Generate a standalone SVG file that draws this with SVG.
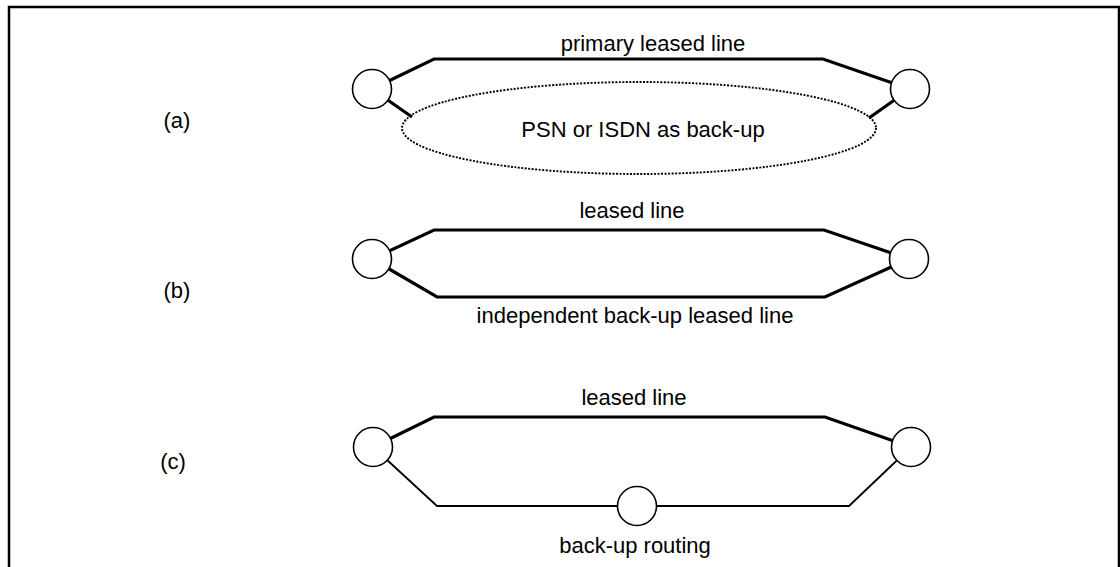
<svg xmlns="http://www.w3.org/2000/svg" width="1120" height="567" viewBox="0 0 1120 567">
  <style>
    .frame { fill: none; stroke: #000; stroke-width: 2.5; }
    .node { fill: #fff; stroke: #000; stroke-width: 1.6; }
    .thick { fill: none; stroke: #000; stroke-width: 3.2; stroke-linejoin: miter; }
    .thin { fill: none; stroke: #000; stroke-width: 1.8; stroke-linejoin: miter; }
    .cloud { fill: none; stroke: #000; stroke-width: 1.9; stroke-dasharray: 2 1.5; }
    text { font-family: "Liberation Sans", Arial, sans-serif; font-size: 22px; fill: #000; text-anchor: middle; }
  </style>

  <!-- outer frame (open at the bottom) -->
  <path class="frame" d="M9,568 V7 H1119 V568"/>

  <!-- case labels -->
  <text x="177" y="128">(a)</text>
  <text x="177" y="298">(b)</text>
  <text x="173" y="469">(c)</text>

  <!-- connectors -->
  <g id="connectors">
    <!-- (a) primary leased line and stubs into the switched network -->
    <polyline class="thick" points="372,89 434,59 823,59 910,89"/>
    <line class="thick" x1="372" y1="89" x2="412" y2="117"/>
    <line class="thick" x1="910" y1="89" x2="869" y2="118"/>
    <ellipse id="psn-cloud" class="cloud" cx="639" cy="128" rx="237" ry="46"/>
    <!-- (b) leased line and independent back-up leased line -->
    <polyline class="thick" points="372,259 434,230 824,230 909,259"/>
    <polyline class="thick" points="372,259 437,297 825,297 909,259"/>
    <!-- (c) leased line and back-up routing via intermediate node -->
    <polyline class="thick" points="373,447 434,417 825,417 911,447"/>
    <polyline class="thin" points="373,447 437,506 849,506 911,447"/>
  </g>

  <!-- (a) nodes -->
  <g id="a-left"><circle class="node" cx="372" cy="89" r="19.5"/></g>
  <g id="a-right"><circle class="node" cx="910" cy="89" r="19.5"/></g>
  <!-- (b) nodes -->
  <g id="b-left"><circle class="node" cx="372" cy="259" r="19.5"/></g>
  <g id="b-right"><circle class="node" cx="909" cy="259" r="19.5"/></g>
  <!-- (c) nodes -->
  <g id="c-left"><circle class="node" cx="373" cy="447" r="19.5"/></g>
  <g id="c-right"><circle class="node" cx="911" cy="447" r="19.5"/></g>
  <g id="c-middle"><circle class="node" cx="637" cy="506" r="19.5"/></g>

  <!-- connector labels -->
  <text x="653" y="51">primary leased line</text>
  <text x="643" y="137">PSN or ISDN as back-up</text>
  <text x="632" y="218">leased line</text>
  <text x="635" y="323">independent back-up leased line</text>
  <text x="634" y="405">leased line</text>
  <text x="635" y="553">back-up routing</text>
</svg>
